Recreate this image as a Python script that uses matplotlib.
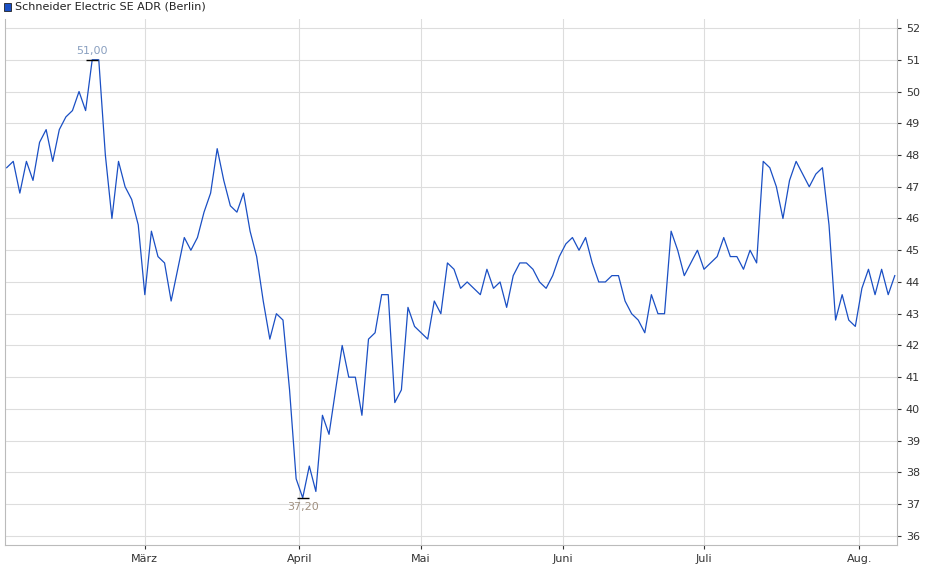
import matplotlib
matplotlib.use("Agg")
import matplotlib.pyplot as plt
import numpy as np

values = [47.6, 47.8, 46.8, 47.8, 47.2, 48.4, 48.8, 47.8, 48.8, 49.2, 49.4, 50.0, 49.4, 51.0, 51.0,
          48.0, 46.0, 47.8, 47.0, 46.6, 45.8, 43.6, 45.6, 44.8, 44.6, 43.4, 44.4, 45.4, 45.0, 45.4,
          46.2, 46.8, 48.2, 47.2, 46.4, 46.2, 46.8, 45.6, 44.8, 43.4, 42.2, 43.0, 42.8, 40.6, 37.8,
          37.2, 38.2, 37.4, 39.8, 39.2, 40.6, 42.0, 41.0, 41.0, 39.8, 42.2, 42.4, 43.6, 43.6, 40.2,
          40.6, 43.2, 42.6, 42.4, 42.2, 43.4, 43.0, 44.6, 44.4, 43.8, 44.0, 43.8, 43.6, 44.4, 43.8,
          44.0, 43.2, 44.2, 44.6, 44.6, 44.4, 44.0, 43.8, 44.2, 44.8, 45.2, 45.4, 45.0, 45.4, 44.6,
          44.0, 44.0, 44.2, 44.2, 43.4, 43.0, 42.8, 42.4, 43.6, 43.0, 43.0, 45.6, 45.0, 44.2, 44.6,
          45.0, 44.4, 44.6, 44.8, 45.4, 44.8, 44.8, 44.4, 45.0, 44.6, 47.8, 47.6, 47.0, 46.0, 47.2,
          47.8, 47.4, 47.0, 47.4, 47.6, 45.8, 42.8, 43.6, 42.8, 42.6, 43.8, 44.4, 43.6, 44.4, 43.6,
          44.2]
month_tick_idx = [21, 44.5, 63, 84.5, 106, 129.6]
month_labels = ["März", "April", "Mai", "Juni", "Juli", "Aug."]
yticks = list(range(36, 53))
label = "Schneider Electric SE ADR (Berlin)"

fig = plt.figure(figsize=(9.40, 5.79), dpi=100)
ax = fig.add_axes([0.005, 0.058, 0.949, 0.91])
line_color = "#1a4fc4"
x = np.arange(len(values))
ax.plot(x, values, color=line_color, lw=0.9)
ax.set_xlim(-0.3, len(values) - 1 + 0.3)
ax.set_ylim(35.7, 52.3)
ax.yaxis.tick_right()
ax.set_yticks(yticks)
ax.set_xticks(month_tick_idx)
ax.set_xticklabels(month_labels)
ax.tick_params(labelsize=8, colors="#333333", length=3)
ax.grid(True, color="#dddddd", lw=0.8)
for s in ax.spines.values():
    s.set_color("#bbbbbb")
ax.spines["top"].set_visible(False)

v = np.array(values)
imax, imin = int(v.argmax()), int(v.argmin())
ax.plot(imax, v[imax], marker="_", color="black", ms=8)
ax.plot(imin, v[imin], marker="_", color="black", ms=8)
ax.annotate(f"{v[imax]:.2f}".replace(".", ","), (imax, v[imax]), xytext=(0, 3),
            textcoords="offset points", ha="center", va="bottom", fontsize=8, color="#8aa0c0")
ax.annotate(f"{v[imin]:.2f}".replace(".", ","), (imin, v[imin]), xytext=(0, -3),
            textcoords="offset points", ha="center", va="top", fontsize=8, color="#a09080")

fig.patches.append(plt.Rectangle((0.004, 0.981), 0.008, 0.013, transform=fig.transFigure,
                                 facecolor=line_color, edgecolor="#222222", lw=0.6))
fig.text(0.016, 0.988, label, fontsize=8, va="center", color="#222222")
fig.savefig("out.png", dpi=100)
